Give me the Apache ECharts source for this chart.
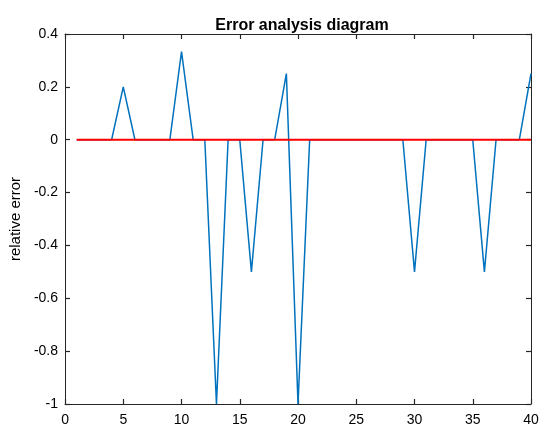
<!DOCTYPE html>
<html><head><meta charset="utf-8">
<script src="https://cdn.jsdelivr.net/npm/echarts@6/dist/echarts.min.js"></script>
<style>html,body{margin:0;padding:0;background:#fff}#c{width:550px;height:441px}</style>
</head><body><div id="c"></div>
<script>
var xs = [];
for (var i = 1; i <= 40; i++) xs.push(i);
var errors = [0,0,0,0,0.2,0,0,0,0,0.333,0,0,-1,0,0,-0.5,0,0,0.25,-1,0,0,0,0,0,0,0,0,0,-0.5,0,0,0,0,0,-0.5,0,0,0,0.25];
var refX = [1, 40];
var refY = [0, 0];
var xTicks = {min: 0, max: 40, interval: 5};
var yTicks = {min: -1, max: 0.4, interval: 0.2};

var axisColor = '#262626';
var font = 'Liberation Sans, Arial, sans-serif';
function fmtY(v){ var r = Math.round(v*10)/10; return r === 0 ? '0' : String(r); }
function line(){ return {show: true, onZero: false, lineStyle: {color: axisColor, width: 1}}; }
function tick(){ return {show: true, inside: true, length: 5, lineStyle: {color: axisColor, width: 1.2}}; }
var chart = echarts.init(document.getElementById('c'), null, {renderer:'canvas'});
chart.setOption({
  animation: false,
  title: {text: 'Error analysis diagram', left: 297, top: 13, textAlign: 'center',
    textStyle: {fontFamily: font, fontWeight: 'bold', fontSize: 16, color: '#000'}},
  grid: {left: 64, right: 19, top: 34, bottom: 37},
  xAxis: [
    {type: 'value', min: xTicks.min, max: xTicks.max, interval: xTicks.interval, position: 'bottom',
     axisLine: line(), axisTick: tick(),
     axisLabel: {color: '#000', fontFamily: font, fontSize: 14, margin: 9},
     splitLine: {show: false}},
    {type: 'value', min: xTicks.min, max: xTicks.max, interval: xTicks.interval, position: 'top',
     axisLine: line(), axisTick: tick(),
     axisLabel: {show: false}, splitLine: {show: false}}
  ],
  yAxis: [
    {type: 'value', min: yTicks.min, max: yTicks.max, interval: yTicks.interval, position: 'left',
     name: 'relative error', nameLocation: 'middle', nameGap: 36,
     nameTextStyle: {fontFamily: font, fontSize: 15, color: '#000'},
     axisLine: line(), axisTick: tick(),
     axisLabel: {color: '#000', fontFamily: font, fontSize: 14, margin: 7, formatter: fmtY},
     splitLine: {show: false}},
    {type: 'value', min: yTicks.min, max: yTicks.max, interval: yTicks.interval, position: 'right',
     axisLine: line(), axisTick: tick(),
     axisLabel: {show: false}, splitLine: {show: false}}
  ],
  series: [
    {type: 'line', data: xs.map(function(x, i){ return [x, errors[i]]; }),
     showSymbol: false, symbol: 'none', lineStyle: {color: '#0072BD', width: 1.5}, z: 2},
    {type: 'line', data: refX.map(function(x, i){ return [x, refY[i]]; }),
     showSymbol: false, symbol: 'none', lineStyle: {color: '#FF0000', width: 2}, z: 3}
  ]
});
</script></body></html>
